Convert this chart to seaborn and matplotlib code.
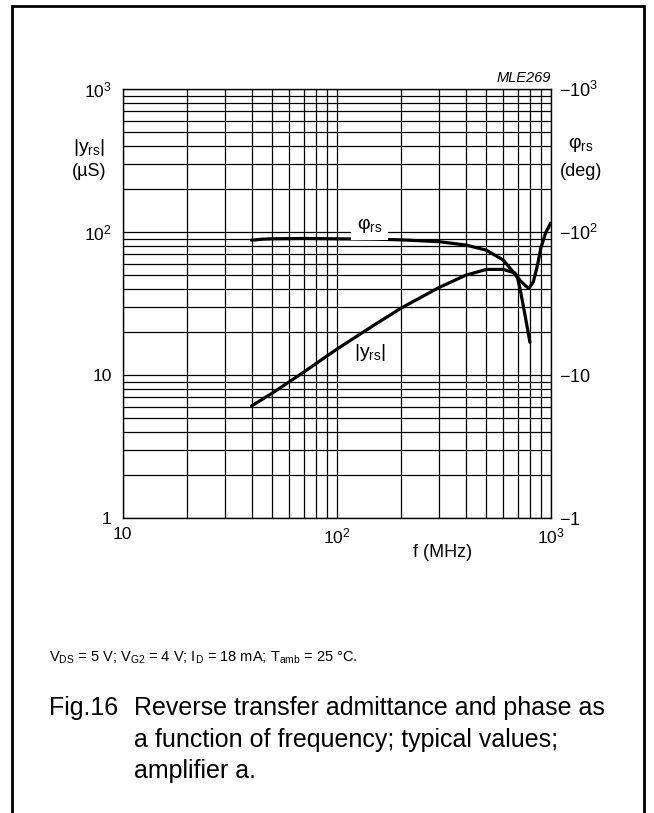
import matplotlib
matplotlib.use("Agg")
import matplotlib.pyplot as plt
from matplotlib.patches import Rectangle
from matplotlib.ticker import LogLocator, NullFormatter
import numpy as np
import pandas as pd
import seaborn as sns

# (f in MHz)
freq_phi = [40, 45, 50, 70, 100, 150, 200, 300, 400, 500, 600, 660, 700, 720, 760, 800]
phi_rs = [88, 89.5, 90, 90.5, 90, 89.5, 88.5, 86, 81.5, 75, 64, 54, 48, 40, 26, 17]

freq_y = [40, 50, 70, 100, 150, 200, 300, 400, 500, 600, 680, 720, 760, 790, 830, 870, 900, 950, 1000]
y_rs = [6.1, 7.5, 10.5, 15.2, 22.5, 29.5, 41, 50, 55, 55, 52, 46, 42.5, 40.5, 45, 60, 78, 100, 116]

x_ticks = [10, 100, 1000]
x_labels = ["10", r"$\mathregular{10^2}$", r"$\mathregular{10^3}$"]
y_ticks = [1, 10, 100, 1000]
y_labels = ["1", "10", r"$\mathregular{10^2}$", r"$\mathregular{10^3}$"]
y2_labels = [r"$\mathregular{-1}$", r"$\mathregular{-10}$", r"$\mathregular{-10^2}$", r"$\mathregular{-10^3}$"]

sns.set_style("white")
plt.rcParams['font.family'] = ['Liberation Sans', 'DejaVu Sans']
plt.rcParams['mathtext.fontset'] = 'custom'
plt.rcParams['mathtext.rm'] = 'Liberation Sans'
plt.rcParams['mathtext.it'] = 'Liberation Sans:italic'
for k in ['text.color', 'axes.labelcolor', 'xtick.color', 'ytick.color']:
    plt.rcParams[k] = 'black'

W, H = 654, 813
fig = plt.figure(figsize=(W / 100, H / 100), dpi=100)
ax = fig.add_axes([0.1876, 0.3625, 0.6544, 0.5277])

phi_df = pd.DataFrame({"f": freq_phi, "v": phi_rs})
y_df = pd.DataFrame({"f": freq_y, "v": y_rs})
sns.lineplot(data=phi_df, x="f", y="v", ax=ax, color="black", lw=2.3)
sns.lineplot(data=y_df, x="f", y="v", ax=ax, color="black", lw=2.3)

ax.set_xscale("log")
ax.set_yscale("log")
ax.set_xlim(10, 1000)
ax.set_ylim(1, 1000)
ax.set_xticks(x_ticks, labels=x_labels)
ax.set_yticks(y_ticks, labels=y_labels)
ax.xaxis.set_minor_locator(LogLocator(subs=np.arange(2, 10)))
ax.yaxis.set_minor_locator(LogLocator(subs=np.arange(2, 10)))
ax.xaxis.set_minor_formatter(NullFormatter())
ax.yaxis.set_minor_formatter(NullFormatter())
ax.tick_params(which="both", length=0, labelsize=12.5)
ax.tick_params(axis="x", pad=6)
ax.tick_params(axis="y", pad=8)
ax.grid(which="both", color="black", lw=0.9)
ax.set_axisbelow(True)
for s in ax.spines.values():
    s.set_color("black")
    s.set_linewidth(1.0)
ax.set_xlabel("")
ax.set_ylabel("")

ax2 = ax.twinx()
ax2.set_yscale("log")
ax2.set_ylim(1, 1000)
ax2.set_yticks(y_ticks, labels=y2_labels)
ax2.yaxis.set_minor_formatter(NullFormatter())
ax2.tick_params(which="both", length=0, labelsize=13, pad=6)
ax2.grid(False)
for s in ax2.spines.values():
    s.set_visible(False)

# curve labels
ax.text(143, 112, r"$\mathregular{\varphi_{rs}}$", ha="center", va="center", fontsize=14,
        bbox=dict(facecolor="white", edgecolor="none", pad=4))
ax.text(143, 14.4, r"|y$_{\mathregular{rs}}$|", ha="center", va="center", fontsize=14)


def fy(y):
    return 1 - y / H


# axis titles
fig.text(89 / W, fy(148), r"|y$_{\mathregular{rs}}$|", ha="center", va="center", fontsize=14)
fig.text(89 / W, fy(172), "(µS)", ha="center", va="center", fontsize=13)
fig.text(581 / W, fy(145), r"$\mathregular{\varphi_{rs}}$", ha="center", va="center", fontsize=14)
fig.text(581 / W, fy(171), "(deg)", ha="center", va="center", fontsize=13)
fig.text(551 / W, fy(78), "MLE269", ha="right", va="center", fontsize=10.5, style="italic")
fig.text(443 / W, fy(552), "f (MHz)", ha="center", va="center", fontsize=13)

# conditions and caption
fig.text(49 / W, fy(662),
         r"V$_{\mathregular{DS}}$ = 5 V; V$_{\mathregular{G2}}$ = 4 V; I$_{\mathregular{D}}$ = 18 mA; "
         r"T$_{\mathregular{amb}}$ = 25 °C.", ha="left", va="baseline", fontsize=10.5)
fig.text(49 / W, fy(715), "Fig.16", ha="left", va="baseline", fontsize=18)
cap_lines = ["Reverse transfer admittance and phase as",
             "a function of frequency; typical values;",
             "amplifier a."]
for i, line in enumerate(cap_lines):
    fig.text(134 / W, fy(715 + 31.5 * i), line, ha="left", va="baseline", fontsize=18)

fig.patches.append(Rectangle((12 / W, -0.01), (644 - 12) / W, 1 - 6 / H + 0.01,
                             transform=fig.transFigure, fill=False, edgecolor="black", lw=2))

fig.savefig("out.png", dpi=100)
